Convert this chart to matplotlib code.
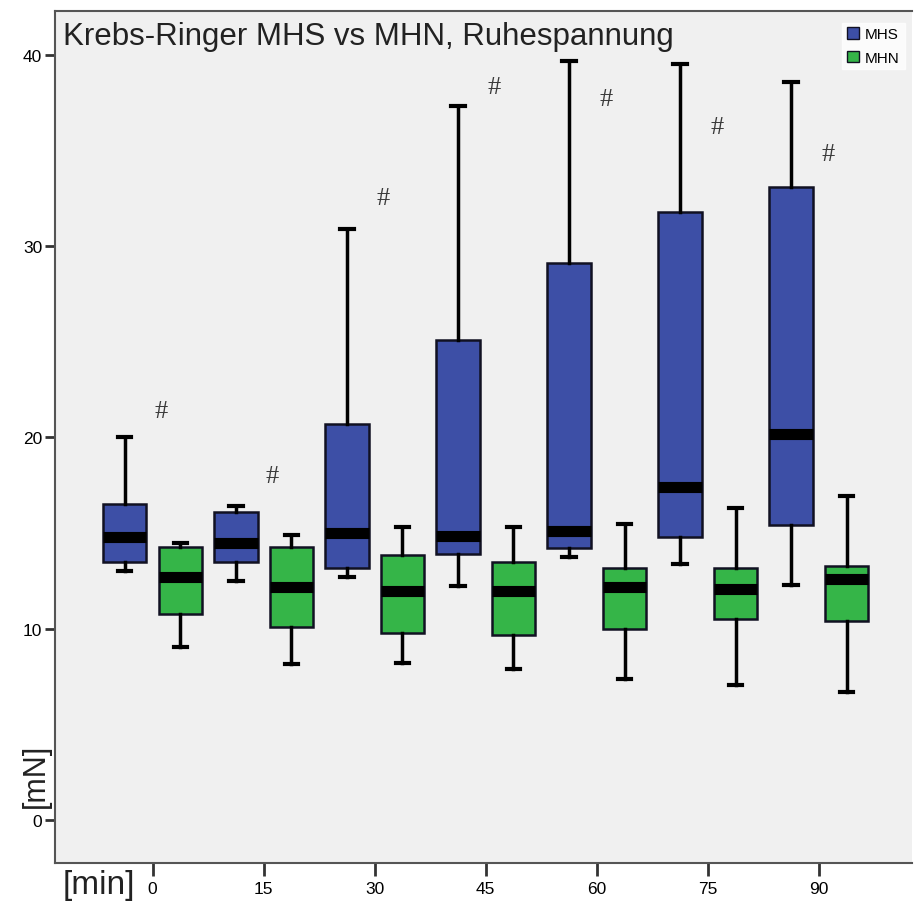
import matplotlib
matplotlib.use("Agg")
from matplotlib import pyplot as plt
from matplotlib.patches import Patch

plt.rcParams["font.family"] = ["Liberation Sans", "DejaVu Sans"]

# time points [min]
times = ["0", "15", "30", "45", "60", "75", "90"]

# MHS: whisker low, q1, median, q3, whisker high
mhs_low = [13.0, 12.5, 12.7, 12.25, 13.75, 13.4, 12.3]
mhs_q1 = [13.5, 13.5, 13.2, 13.9, 14.2, 14.8, 15.4]
mhs_med = [14.8, 14.5, 15.0, 14.85, 15.1, 17.4, 20.2]
mhs_q3 = [16.5, 16.1, 20.7, 25.1, 29.1, 31.8, 33.1]
mhs_high = [20.0, 16.4, 30.9, 37.3, 39.7, 39.5, 38.6]

# MHN
mhn_low = [9.05, 8.15, 8.2, 7.9, 7.4, 7.05, 6.7]
mhn_q1 = [10.8, 10.1, 9.8, 9.7, 10.0, 10.5, 10.4]
mhn_med = [12.7, 12.2, 12.0, 12.0, 12.2, 12.1, 12.6]
mhn_q3 = [14.3, 14.3, 13.85, 13.5, 13.2, 13.2, 13.3]
mhn_high = [14.5, 14.9, 15.3, 15.3, 15.5, 16.3, 16.95]

# '#' significance markers (y position)
hash_y = [21.4, 18.0, 32.5, 38.3, 37.7, 36.2, 34.8]

blue = "#3d4fa6"
green = "#35b548"


def make_stats(low, q1, med, q3, high):
    return [dict(whislo=a, q1=b, med=c, q3=d, whishi=e, fliers=[])
            for a, b, c, d, e in zip(low, q1, med, q3, high)]


fig = plt.figure(figsize=(9.14, 9.04), dpi=100)
ax = fig.add_axes([0.060, 0.044, 0.938, 0.943])
ax.set_facecolor("#f0f0f0")

pos = list(range(len(times)))
for stats, off, col in [
    (make_stats(mhs_low, mhs_q1, mhs_med, mhs_q3, mhs_high), -0.25, blue),
    (make_stats(mhn_low, mhn_q1, mhn_med, mhn_q3, mhn_high), 0.25, green),
]:
    ax.bxp(stats, positions=[p + off for p in pos], widths=0.39,
           patch_artist=True, showfliers=False,
           boxprops=dict(facecolor=col, edgecolor="#111122", linewidth=1.8),
           medianprops=dict(color="black", linewidth=8, solid_capstyle="butt"),
           whiskerprops=dict(color="black", linewidth=2.5),
           capprops=dict(color="black", linewidth=3),
           capwidths=0.12)

for p, hy in zip(pos, hash_y):
    ax.text(p + 0.08, hy, "#", fontsize=19, color="#3a3a3a",
            ha="center", va="center", family="Liberation Serif")

ax.set_xlim(-0.88, 6.84)
ax.set_ylim(-2.25, 42.3)
ax.set_yticks([0, 10, 20, 30, 40])
ax.set_xticks(pos)
ax.set_xticklabels(times)
ax.tick_params(axis="y", labelsize=12.5, length=7, width=2, color="#333333", pad=2)
ax.tick_params(axis="x", labelsize=12.5, length=9, width=2, color="#333333", pad=4)

for side in ("left", "bottom", "top"):
    ax.spines[side].set_color("#555555")
    ax.spines[side].set_linewidth(1.5)
ax.spines["right"].set_visible(False)

ax.text(0.009, 0.988, "Krebs-Ringer MHS vs MHN, Ruhespannung",
        transform=ax.transAxes, fontsize=22.5, ha="left", va="top",
        color="#222222")

fig.text(0.039, 0.142, "[mN]", rotation=90, fontsize=22, ha="center",
         va="center", color="#222222")
fig.text(0.108, 0.021, "[min]", fontsize=24, ha="center", va="center",
         color="#222222")

handles = [Patch(facecolor=blue, edgecolor="#111122", label="MHS"),
           Patch(facecolor=green, edgecolor="#111122", label="MHN")]
leg = ax.legend(handles=handles, loc="upper right", bbox_to_anchor=(1.0, 0.995),
                fontsize=11, frameon=True, fancybox=False,
                handlelength=0.8, handleheight=0.8, handletextpad=0.4,
                labelspacing=0.6, borderpad=0.3)
leg.get_frame().set_facecolor("white")
leg.get_frame().set_edgecolor("white")

fig.savefig("out.png", dpi=100)
